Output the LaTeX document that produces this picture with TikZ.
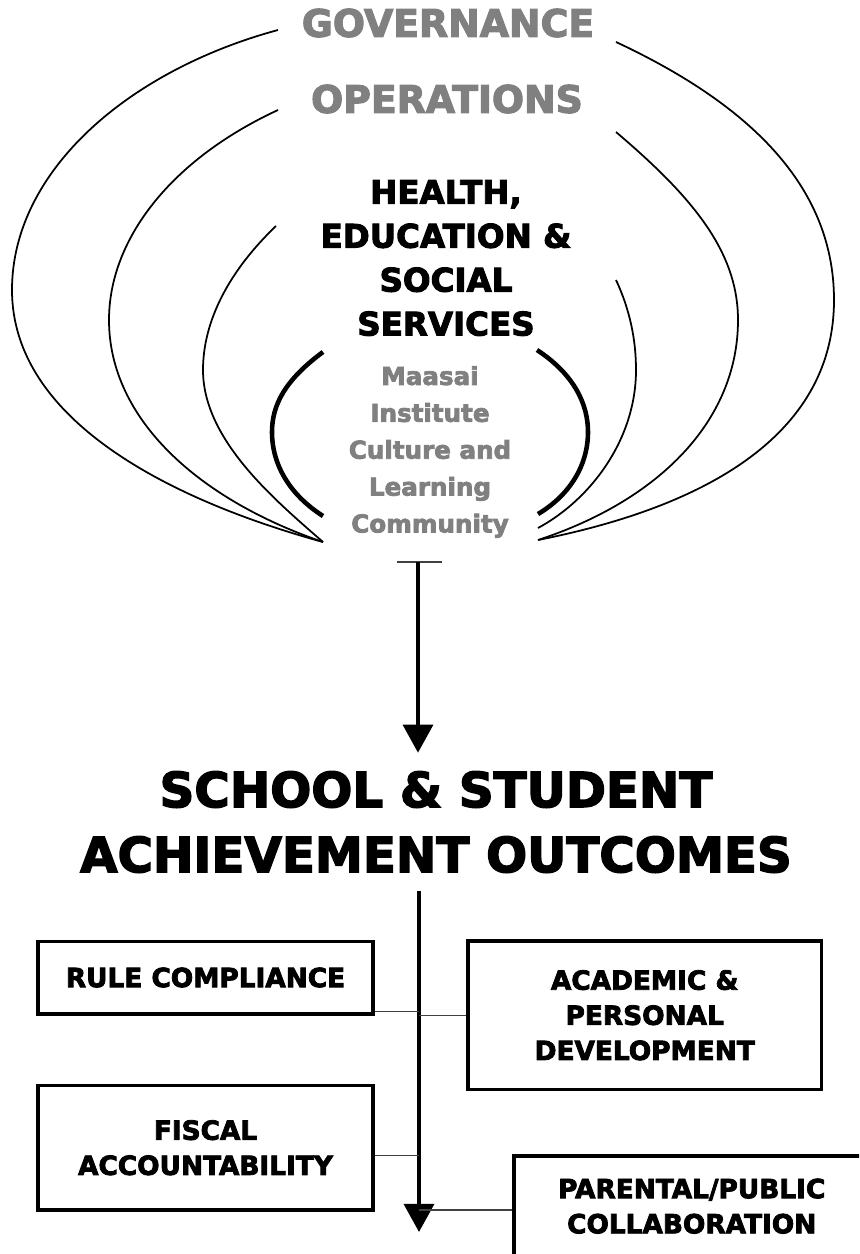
\documentclass[tikz,border=0pt]{standalone}
\usepackage{fontspec}
\newfontfamily\heavyfont{DejaVu Sans}[UprightFont={* Bold}, FakeBold=3]
\usetikzlibrary{arrows.meta, positioning, calc}

\begin{document}
\begin{tikzpicture}[
    x=0.02cm, y=-0.02cm,
    layertext/.style={font=\heavyfont\fontsize{21.5}{26}\selectfont, text=black!50},
    core/.style={font=\heavyfont\fontsize{18.5}{25}\selectfont, align=center},
    community/.style={font=\heavyfont\fontsize{14}{21}\selectfont, text=black!50, align=center},
    headline/.style={font=\heavyfont\fontsize{27.5}{37}\selectfont, align=center},
    outcome/.style={rectangle, draw, line width=2pt, align=center, font=\heavyfont\fontsize{15}{20}\selectfont},
    arcline/.style={line width=1pt},
    thickarc/.style={line width=2.6pt},
    flow/.style={line width=2.3pt, -{Triangle[length=16pt, width=17pt]}},
    link/.style={line width=0.6pt, black!75}
]
\useasboundingbox (0,0) rectangle (859,1254);
\clip (0,0) rectangle (859,1254);

% Rings
\draw[arcline] (278,30) .. controls (130,70) and (12,170) .. (12,290)
                        .. controls (12,420) and (170,500) .. (323,542);
\draw[arcline] (278,110) .. controls (170,160) and (109,240) .. (109,320)
                         .. controls (109,420) and (200,500) .. (323,542);
\draw[arcline] (276,226) .. controls (230,270) and (203,320) .. (203,370)
                         .. controls (203,440) and (275,500) .. (323,542);
\draw[arcline] (616,42) .. controls (740,100) and (834,180) .. (834,300)
                        .. controls (834,430) and (715,505) .. (538,540);
\draw[arcline] (616,132) .. controls (690,195) and (738,250) .. (738,320)
                         .. controls (738,420) and (660,500) .. (538,540);
\draw[arcline] (616,280) .. controls (630,310) and (636,340) .. (636,370)
                         .. controls (636,440) and (590,500) .. (538,528);
\draw[thickarc] (323,352) .. controls (285,380) and (272,405) .. (272,432)
                          .. controls (272,465) and (290,495) .. (323,516);
\draw[thickarc] (537,350) .. controls (575,375) and (588,405) .. (588,432)
                          .. controls (588,465) and (570,495) .. (538,514);

% Layers
\node[layertext] (governance) at (448,23) {GOVERNANCE};
\node[layertext] (operations) at (447,99) {OPERATIONS};
\node[core] (services) at (446,258) {HEALTH,\\EDUCATION \&\\SOCIAL\\SERVICES};
\node[community] (maasai) at (430,452) {Maasai\\Institute\\Culture and\\Learning\\Community};

% Outcomes
\node[headline] (outcomes) at (436,822) {SCHOOL \& STUDENT\\ACHIEVEMENT OUTCOMES};

\coordinate (stem) at (418,562);
\draw[link] ($(stem)+(-21,0)$) -- ($(stem)+(24,0)$);
\draw[flow, shorten >=7pt] (stem) -- (stem |- outcomes.north);

\coordinate (spine) at (419,1232);
\draw[flow, shorten <=7pt] (outcomes.south -| spine) -- (spine);

% Measures
\node[outcome, minimum width=6.7cm, minimum height=1.45cm] (rule) at (205.5,977.5) {RULE COMPLIANCE};
\node[outcome, minimum width=6.7cm, minimum height=2.5cm, below=1.36cm of rule] (fiscal) {FISCAL\\ACCOUNTABILITY};
\node[outcome, minimum width=7.08cm, minimum height=2.98cm, anchor=north west] (academic) at (466,939) {ACADEMIC \&\\PERSONAL\\DEVELOPMENT};
\node[outcome, minimum width=7.12cm, inner ysep=13pt, anchor=north west] (parental) at (512,1154) {PARENTAL/PUBLIC\\COLLABORATION};

\coordinate (j1) at ($(rule.south east)+(0,-4)$);
\coordinate (j2) at ($(fiscal.east)+(0,8)$);
\coordinate (j3) at ($(parental.north west)+(0,56)$);
\draw[link] (j1) -- (j1 -| spine);
\draw[link] (academic.west) -- (academic.west -| spine);
\draw[link] (j2) -- (j2 -| spine);
\draw[link] (j3) -- (j3 -| spine);

\end{tikzpicture}
\end{document}
